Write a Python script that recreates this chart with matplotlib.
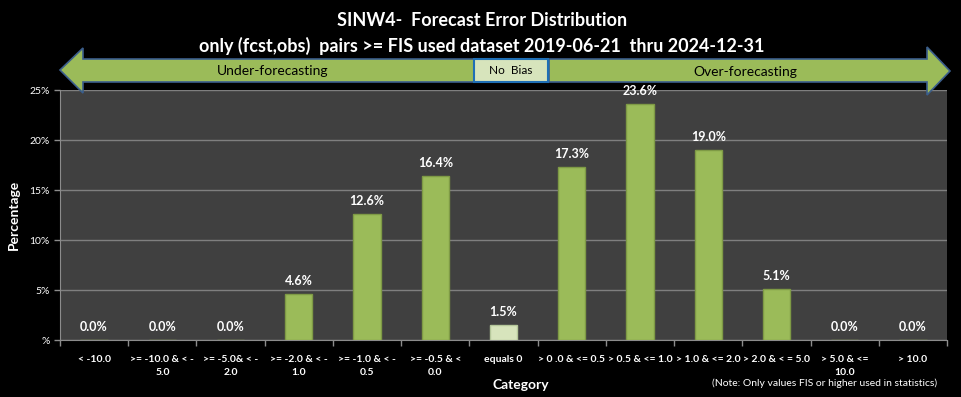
#!/usr/bin/env python3

"""Forecast error distribution bar chart (SINW4)."""

import matplotlib
matplotlib.use("Agg")
import matplotlib.pyplot as plt
from matplotlib.patches import Polygon, Rectangle
from matplotlib.ticker import FuncFormatter

plt.rcParams['font.family'] = ['Lato', 'DejaVu Sans']

categories = ["< -10.0", ">= -10.0 & < -\n5.0", ">= -5.0& < -\n2.0",
              ">= -2.0 & < -\n1.0", ">= -1.0 & < -\n0.5", ">= -0.5 & <\n0.0",
              "equals 0", "> 0 .0 & <= 0.5", "> 0.5 & <= 1.0",
              "> 1.0 & <= 2.0", "> 2.0 & < = 5.0", "> 5.0 & <=\n10.0",
              "> 10.0"]
percent = [0.0, 0.0, 0.0, 4.6, 12.6, 16.4, 1.5, 17.3, 23.6, 19.0, 5.1, 0.0, 0.0]

W, H = 961, 397
green = "#9BBB59"
light = "#D7E4BC"

fig = plt.figure(figsize=(W / 100, H / 100), dpi=100, facecolor="black")
ax = fig.add_axes([60 / W, 57 / H, 887 / W, 250 / H])
ax.set_facecolor("#404040")

def px(x, y):
    return (x / W, 1 - y / H)

x = range(len(categories))
colors = [light if c == "equals 0" else green for c in categories]
edges = ["#B5C79A" if c == "equals 0" else "#7E9A45" for c in categories]
ax.bar(x, percent, width=0.4, color=colors, edgecolor=edges, linewidth=1, zorder=3)
for i, v in zip(x, percent):
    ax.text(i, v + 0.7, f"{v:.1f}%", ha="center", va="bottom", color="white",
            fontsize=9, fontweight="bold", zorder=4)

ax.set_xlim(-0.5, len(categories) - 0.5)
ax.set_ylim(0, 25)
ax.set_yticks([0, 5, 10, 15, 20, 25])
ax.yaxis.set_major_formatter(FuncFormatter(lambda v, p: "%" if v == 0 else f"{v:.0f}%"))
ax.grid(axis="y", color="#7F7F7F", linewidth=1, zorder=1)
ax.set_xticks(list(x))
ax.set_xticklabels(categories, fontsize=7.5, color="white", fontweight="bold", linespacing=1.5)
ax.set_xticks([i - 0.5 for i in range(len(categories) + 1)], minor=True)
ax.tick_params(axis="x", which="major", length=0, pad=11)
ax.tick_params(axis="x", which="minor", length=4, color="#8C8C8C", width=1)
ax.tick_params(axis="y", colors="white", labelsize=7.5, length=4, width=1)
ax.tick_params(axis="y", color="#8C8C8C")
for s in ["top", "right"]:
    ax.spines[s].set_visible(False)
for s in ["left", "bottom"]:
    ax.spines[s].set_color("#8C8C8C")

ax.set_ylabel("Percentage", color="white", fontsize=10, fontweight="bold", labelpad=7)
fig.text(*px(521, 385), "Category", color="white", fontsize=10, fontweight="bold",
         ha="center", va="center")
fig.text(*px(825, 383), "(Note: Only values FIS or higher used in statistics)",
         color="white", fontsize=7.5, ha="center", va="center")

fig.text(*px(482, 20), "SINW4-  Forecast Error Distribution", color="white",
         fontsize=13, fontweight="bold", ha="center", va="center")
fig.text(*px(482, 46), "only (fcst,obs)  pairs >= FIS used dataset 2019-06-21  thru 2024-12-31",
         color="white", fontsize=13, fontweight="bold", ha="center", va="center")

# direction arrows above the plot
left_arrow = [px(60, 70), px(83, 48), px(83, 59), px(474, 59), px(474, 82), px(83, 82), px(83, 93)]
right_arrow = [px(549, 59), px(927, 59), px(927, 47), px(950, 71), px(927, 95), px(927, 82), px(549, 82)]
for pts in (left_arrow, right_arrow):
    fig.patches.append(Polygon(pts, closed=True, transform=fig.transFigure,
                               facecolor=green, edgecolor="#3B5E8C", linewidth=1.2))
x0, y0 = px(474, 82)
fig.patches.append(Rectangle((x0, y0), 74 / W, 23 / H, transform=fig.transFigure,
                             facecolor=light, edgecolor="#1F6FB5", linewidth=1.5))
fig.text(*px(273, 71), "Under-forecasting", color="black", fontsize=10, ha="center", va="center")
fig.text(*px(511, 71), "No  Bias", color="black", fontsize=8.5, ha="center", va="center")
fig.text(*px(745, 72), "Over-forecasting", color="black", fontsize=10, ha="center", va="center")

fig.savefig("out.png", dpi=100, facecolor="black")
